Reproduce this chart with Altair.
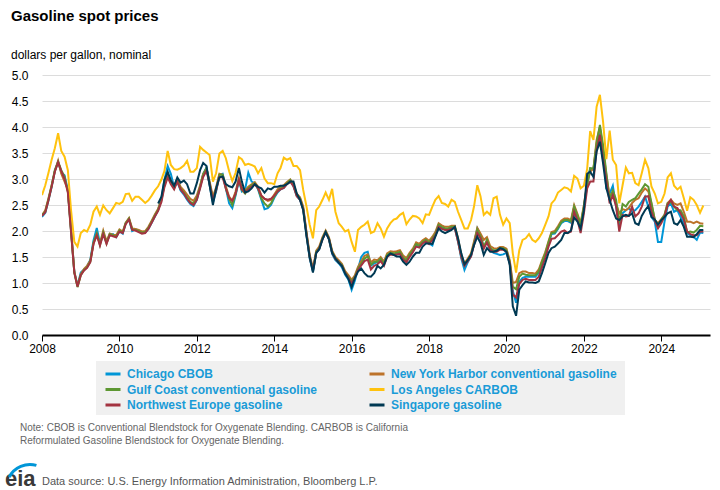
import altair as alt
import pandas as pd

# ---------------- data (monthly, Jan 2008 - Feb 2025), dollars per gallon ----------------
series_names = [
    "Chicago CBOB",
    "New York Harbor conventional gasoline",
    "Gulf Coast conventional gasoline",
    "Los Angeles CARBOB",
    "Northwest Europe gasoline",
    "Singapore gasoline",
]
series_colors = ["#0096d7", "#bd732a", "#5d9732", "#ffc20e", "#a33340", "#003953"]
# legend is filled column by column: left column, then right column
legend_order = [0, 2, 4, 1, 3, 5]

chicago = [
    2.27,2.35,2.58,2.85,3.15,3.33,3.12,3.07,2.78,2.02,
    1.22,0.95,1.20,1.26,1.32,1.45,1.82,2.06,1.76,1.95,
    1.79,1.92,1.94,1.88,1.99,1.95,2.15,2.22,2.00,2.03,
    2.01,1.98,1.97,2.04,2.16,2.28,2.40,2.62,2.98,3.25,
    3.10,2.84,2.95,2.78,2.70,2.60,2.52,2.48,2.60,2.84,
    3.10,3.22,2.88,2.55,2.76,3.08,3.10,2.82,2.53,2.44,
    2.68,2.97,2.76,2.80,3.12,2.95,2.92,2.80,2.60,2.42,
    2.44,2.50,2.64,2.74,2.80,2.83,2.91,2.97,2.86,2.68,
    2.60,2.42,1.92,1.47,1.22,1.58,1.65,1.85,1.98,1.84,
    1.56,1.44,1.38,1.30,1.16,1.07,0.87,1.05,1.27,1.50,
    1.58,1.60,1.33,1.38,1.40,1.45,1.35,1.52,1.56,1.55,
    1.56,1.58,1.47,1.42,1.53,1.61,1.73,1.70,1.79,1.80,
    1.76,1.72,1.92,2.10,2.06,2.03,2.04,2.07,2.06,1.80,
    1.47,1.25,1.40,1.52,1.75,2.05,1.92,1.68,1.80,1.63,
    1.58,1.56,1.54,1.55,1.58,1.38,0.85,0.62,1.02,1.10,
    1.12,1.12,1.12,1.12,1.20,1.38,1.54,1.75,1.94,1.95,
    2.04,2.15,2.19,2.19,2.16,2.45,2.28,2.10,2.45,2.88,
    3.20,3.18,3.62,3.96,3.50,2.82,2.72,2.87,2.47,2.12,
    2.34,2.40,2.44,2.37,2.40,2.47,2.56,2.66,2.47,2.27,
    2.18,1.79,1.79,2.18,2.47,2.53,2.37,2.40,2.27,2.15,
    1.96,1.92,1.89,1.83,1.97,1.96,
]

new_york = [
    2.30,2.40,2.62,2.88,3.15,3.35,3.10,2.95,2.80,2.05,
    1.22,0.94,1.17,1.27,1.33,1.43,1.76,1.92,1.76,2.01,
    1.80,1.95,1.93,1.92,2.03,1.99,2.16,2.25,2.05,2.04,
    2.02,1.99,2.00,2.08,2.20,2.32,2.43,2.61,2.90,3.10,
    2.97,2.86,3.00,2.85,2.78,2.70,2.62,2.58,2.68,2.88,
    3.10,3.20,2.95,2.66,2.84,3.10,3.08,2.86,2.66,2.58,
    2.76,3.02,2.84,2.78,2.85,2.90,2.94,2.85,2.68,2.62,
    2.58,2.60,2.70,2.80,2.85,2.88,2.94,2.99,2.90,2.72,
    2.65,2.47,1.98,1.55,1.28,1.62,1.70,1.88,2.01,1.88,
    1.62,1.50,1.44,1.37,1.23,1.15,1.06,1.15,1.31,1.42,
    1.52,1.55,1.40,1.45,1.44,1.50,1.41,1.57,1.61,1.60,
    1.61,1.63,1.53,1.48,1.58,1.66,1.78,1.75,1.82,1.86,
    1.81,1.89,1.98,2.15,2.11,2.08,2.08,2.10,2.10,1.86,
    1.54,1.38,1.47,1.57,1.80,2.06,1.95,1.83,1.88,1.71,
    1.67,1.66,1.69,1.69,1.66,1.44,1.00,1.02,1.19,1.22,
    1.22,1.19,1.19,1.18,1.26,1.43,1.59,1.80,1.98,2.00,
    2.09,2.20,2.24,2.24,2.21,2.50,2.33,2.15,2.50,2.92,
    3.14,3.20,3.75,4.00,3.56,3.08,2.66,2.76,2.53,2.34,
    2.42,2.40,2.44,2.54,2.60,2.63,2.74,2.82,2.76,2.53,
    2.21,2.15,2.23,2.31,2.54,2.60,2.53,2.50,2.53,2.37,
    2.18,2.18,2.15,2.18,2.15,2.14,
]

gulf_coast = [
    2.31,2.37,2.60,2.87,3.17,3.33,3.17,3.04,2.76,2.00,
    1.20,0.92,1.15,1.25,1.30,1.41,1.78,1.96,1.73,1.97,
    1.76,1.94,1.92,1.89,2.01,1.97,2.15,2.24,2.03,2.02,
    2.00,1.97,1.98,2.06,2.18,2.30,2.41,2.59,2.88,3.08,
    2.94,2.82,2.98,2.81,2.74,2.65,2.56,2.53,2.63,2.85,
    3.08,3.21,2.92,2.60,2.79,3.08,3.08,2.82,2.62,2.50,
    2.71,2.99,2.79,2.72,2.82,2.88,2.92,2.82,2.63,2.53,
    2.47,2.53,2.66,2.76,2.82,2.85,2.92,2.98,2.88,2.69,
    2.63,2.44,1.96,1.51,1.25,1.60,1.67,1.86,1.99,1.86,
    1.60,1.47,1.41,1.35,1.20,1.12,1.03,1.12,1.28,1.37,
    1.47,1.51,1.35,1.41,1.41,1.47,1.37,1.54,1.58,1.57,
    1.58,1.60,1.49,1.44,1.55,1.63,1.75,1.72,1.79,1.83,
    1.78,1.86,1.94,2.12,2.08,2.05,2.05,2.08,2.08,1.83,
    1.51,1.35,1.44,1.54,1.76,2.02,1.90,1.70,1.83,1.67,
    1.63,1.63,1.67,1.67,1.63,1.41,0.93,0.88,1.12,1.18,
    1.16,1.15,1.15,1.15,1.22,1.40,1.56,1.78,1.96,1.97,
    2.06,2.17,2.21,2.21,2.18,2.47,2.30,2.12,2.47,2.90,
    3.21,3.20,3.69,4.04,3.65,3.11,2.60,2.78,2.60,2.15,
    2.52,2.47,2.56,2.60,2.63,2.72,2.80,2.90,2.85,2.53,
    2.22,2.12,2.21,2.31,2.53,2.56,2.47,2.40,2.40,2.28,
    1.97,1.99,1.97,2.02,2.10,2.09,
]

los_angeles = [
    2.69,2.88,3.11,3.37,3.59,3.88,3.54,3.43,3.17,2.40,
    1.79,1.70,1.96,2.02,1.99,2.12,2.37,2.47,2.31,2.49,
    2.40,2.34,2.44,2.54,2.52,2.56,2.71,2.72,2.58,2.66,
    2.66,2.60,2.54,2.59,2.68,2.78,2.86,2.99,3.15,3.54,
    3.27,3.19,3.18,3.21,3.26,3.35,3.14,3.14,3.21,3.62,
    3.56,3.51,3.46,2.95,3.11,3.49,3.54,3.40,3.15,2.96,
    3.12,3.42,3.38,3.27,3.29,3.27,3.24,3.11,3.21,3.01,
    2.92,2.92,2.90,3.11,3.21,3.41,3.37,3.40,3.25,3.25,
    3.17,2.79,2.47,2.12,1.86,2.40,2.47,2.60,2.74,2.60,
    2.81,2.37,2.15,2.08,1.99,2.02,1.79,1.60,2.02,2.08,
    2.12,2.18,1.96,1.99,2.15,2.05,1.89,2.05,2.15,2.22,
    2.24,2.31,2.35,2.13,2.22,2.29,2.28,2.24,2.15,2.32,
    2.31,2.47,2.60,2.67,2.54,2.52,2.47,2.60,2.56,2.37,
    2.21,2.05,2.05,2.21,2.47,2.88,2.67,2.31,2.37,2.31,
    2.63,2.66,2.31,2.12,2.24,2.15,1.57,1.20,1.63,1.83,
    1.86,1.94,1.83,1.79,1.86,1.96,2.12,2.28,2.53,2.60,
    2.74,2.79,2.84,2.82,2.76,3.06,3.01,2.82,2.87,3.20,
    3.92,3.75,4.39,4.62,4.10,3.38,3.93,3.37,3.27,2.53,
    2.88,3.22,3.11,3.12,2.92,2.88,3.11,3.37,3.21,2.85,
    2.72,2.53,2.56,2.72,3.03,3.11,2.87,2.80,2.85,2.63,
    2.39,2.65,2.60,2.50,2.35,2.49,
]

northwest_europe = [
    2.29,2.36,2.58,2.85,3.14,3.32,3.15,3.00,2.74,1.98,
    1.20,0.93,1.15,1.24,1.29,1.40,1.75,1.92,1.72,1.94,
    1.75,1.92,1.90,1.88,1.99,1.96,2.13,2.22,2.02,2.01,
    1.98,1.95,1.96,2.04,2.16,2.28,2.39,2.56,2.84,3.03,
    2.90,2.80,2.95,2.80,2.72,2.62,2.54,2.50,2.60,2.82,
    3.04,3.16,2.90,2.60,2.78,3.04,3.03,2.82,2.64,2.58,
    2.72,2.98,2.80,2.74,2.80,2.85,2.90,2.82,2.68,2.62,
    2.60,2.62,2.68,2.76,2.80,2.83,2.90,2.95,2.86,2.67,
    2.60,2.42,1.94,1.50,1.24,1.58,1.66,1.84,1.97,1.85,
    1.58,1.46,1.40,1.33,1.19,1.10,1.00,1.10,1.25,1.34,
    1.42,1.45,1.26,1.33,1.36,1.42,1.33,1.50,1.55,1.54,
    1.55,1.56,1.45,1.40,1.50,1.59,1.70,1.68,1.76,1.80,
    1.75,1.83,1.91,2.08,2.04,2.02,2.02,2.05,2.05,1.80,
    1.50,1.33,1.42,1.51,1.73,1.96,1.86,1.66,1.78,1.64,
    1.60,1.60,1.64,1.64,1.60,1.38,0.78,0.72,0.98,1.06,
    1.08,1.06,1.06,1.06,1.12,1.30,1.48,1.70,1.85,1.86,
    1.92,1.99,2.01,1.96,1.99,2.37,2.21,1.96,2.34,2.82,
    2.95,2.95,3.56,3.85,3.37,2.98,2.53,2.69,2.47,1.99,
    2.31,2.28,2.29,2.47,2.28,2.34,2.47,2.66,2.67,2.37,
    2.20,2.05,2.15,2.28,2.50,2.60,2.47,2.44,2.34,2.22,
    1.99,1.94,1.92,1.92,1.99,1.99,
]

singapore = [None] * 36 + [
    2.53,2.66,2.98,3.14,
    2.97,2.87,3.03,2.93,2.97,2.90,2.72,2.72,2.92,3.17,
    3.31,3.25,2.88,2.50,2.82,3.03,3.05,2.90,2.86,2.84,
    2.95,3.21,2.95,2.74,2.76,2.82,2.90,2.85,2.82,2.74,
    2.82,2.80,2.85,2.85,2.87,2.87,2.90,2.95,2.95,2.72,
    2.60,2.40,1.90,1.50,1.20,1.58,1.65,1.84,1.98,1.84,
    1.58,1.47,1.39,1.33,1.18,1.08,0.92,1.10,1.22,1.28,
    1.19,1.13,1.12,1.19,1.33,1.28,1.35,1.51,1.57,1.54,
    1.51,1.51,1.41,1.35,1.41,1.51,1.58,1.58,1.70,1.76,
    1.76,1.75,1.89,2.05,1.99,1.96,1.99,2.02,2.08,1.86,
    1.57,1.36,1.44,1.54,1.73,1.89,1.77,1.54,1.67,1.60,
    1.60,1.62,1.67,1.65,1.60,1.35,0.55,0.37,0.87,0.96,
    1.03,1.01,1.01,1.00,1.03,1.19,1.38,1.58,1.67,1.70,
    1.76,1.83,1.96,1.96,2.01,2.26,2.18,2.05,2.40,3.10,
    3.14,3.04,3.53,3.72,3.30,2.82,2.60,2.40,2.24,2.21,
    2.28,2.31,2.29,2.34,2.15,2.12,2.29,2.40,2.48,2.27,
    2.22,2.12,2.21,2.27,2.34,2.37,2.15,2.12,2.21,2.08,
    1.89,1.89,1.88,1.94,2.02,2.02,
]

x_tick_years = [2008, 2010, 2012, 2014, 2016, 2018, 2020, 2022, 2024]
y_tick_values = [0, 0.5, 1, 1.5, 2, 2.5, 3, 3.5, 4, 4.5, 5]

title_text = "Gasoline spot prices"
subtitle_text = "dollars per gallon, nominal"
note_lines = [
    "Note: CBOB is Conventional Blendstock for Oxygenate Blending. CARBOB is California",
    "Reformulated Gasoline Blendstock for Oxygenate Blending.",
]
source_text = "Data source: U.S. Energy Information Administration, Bloomberg L.P."

# ---------------- build table ----------------
months = pd.date_range("2008-01-01", periods=206, freq="MS")
rows = []
for name, vals in zip(series_names, [chicago, new_york, gulf_coast, los_angeles, northwest_europe, singapore]):
    assert len(vals) == len(months), (name, len(vals))
    for d, v in zip(months, vals):
        if v is not None:
            rows.append({"date": d.strftime("%Y-%m-%d"), "series": name, "price": v})
df = pd.DataFrame(rows)

FONT = "Liberation Sans"
W, H = 668, 260
PL, PT = 42, 75

def px(x):
    return x - PL

def py(y):
    return y - PT

dom = [series_names[i] for i in legend_order]
rng = [series_colors[i] for i in legend_order]

lines = alt.Chart(df).mark_line(strokeWidth=2, clip=True).encode(
    x=alt.X(
        "date:T",
        scale=alt.Scale(domain=[alt.DateTime(year=2008, month=1, date=1),
                                alt.DateTime(year=2025, month=4, date=5)]),
        axis=alt.Axis(
            title=None, format="%Y",
            values=[alt.DateTime(year=y, month=1, date=1) for y in x_tick_years],
            labelFont=FONT, labelFontSize=12, labelColor="#000",
            domainColor="#000", domainWidth=2, tickColor="#000", tickSize=6,
            labelPadding=2, grid=False, labelFlush=False,
        ),
    ),
    y=alt.Y(
        "price:Q",
        scale=alt.Scale(domain=[0, 5], nice=False),
        axis=alt.Axis(
            title=None, values=y_tick_values, format=".1f",
            labelFont=FONT, labelFontSize=12, labelColor="#000",
            domain=False, ticks=False, tickSize=0, labelPadding=14,
            grid=True, gridColor="#dcdcdc", gridWidth=1,
        ),
    ),
    color=alt.Color(
        "series:N",
        scale=alt.Scale(domain=dom, range=rng),
        legend=alt.Legend(
            title=None, orient="none", legendX=px(104), legendY=py(365),
            columns=2, columnPadding=45, rowPadding=0.5, padding=0,
            gridAlign="each",
            labelFont=FONT, labelFontSize=12, labelFontWeight="bold",
            labelColor="#1a9bd7", labelOffset=5, labelLimit=400,
            symbolType="stroke", symbolSize=225, symbolStrokeWidth=3,
        ),
    ),
)

legend_bg = alt.Chart(pd.DataFrame({"k": [0]})).mark_rect(color="#f0f0f0").encode(
    x=alt.value(px(96)), x2=alt.value(px(625)), y=alt.value(py(361)), y2=alt.value(py(415))
)

def text_layer(txt, x, y, size, weight="normal", color="#000"):
    return alt.Chart(pd.DataFrame({"t": [txt]})).mark_text(
        align="left", baseline="alphabetic", font=FONT, fontSize=size,
        fontWeight=weight, color=color,
    ).encode(text="t:N", x=alt.value(px(x)), y=alt.value(py(y)))

title = text_layer(title_text, 11, 21, 15, "bold")
subtitle = text_layer(subtitle_text, 11, 59, 12)
note1 = text_layer(note_lines[0], 20, 431, 10, color="#666666")
note2 = text_layer(note_lines[1], 20, 444, 10, color="#666666")
source = text_layer(source_text, 42, 485, 11, color="#555555")
eia = text_layer("eia", 5, 486, 22, "bold", color="#3a3a3a")

swoosh = alt.Chart(pd.DataFrame({"k": [0]})).mark_arc(
    color="#0096d7", radius=25, radius2=22, theta=5.2, theta2=6.56
).encode(x=alt.value(px(30)), y=alt.value(py(488)))

chart = alt.layer(
    legend_bg, lines, title, subtitle, note1, note2, source, eia, swoosh
).properties(
    width=W, height=H,
    padding={"left": PL, "top": PT, "right": 720 - PL - W, "bottom": 490 - PT - H},
    autosize="none",
).configure_view(stroke=None)

chart.save("out.html", embed_options={"renderer": "svg", "actions": False})
